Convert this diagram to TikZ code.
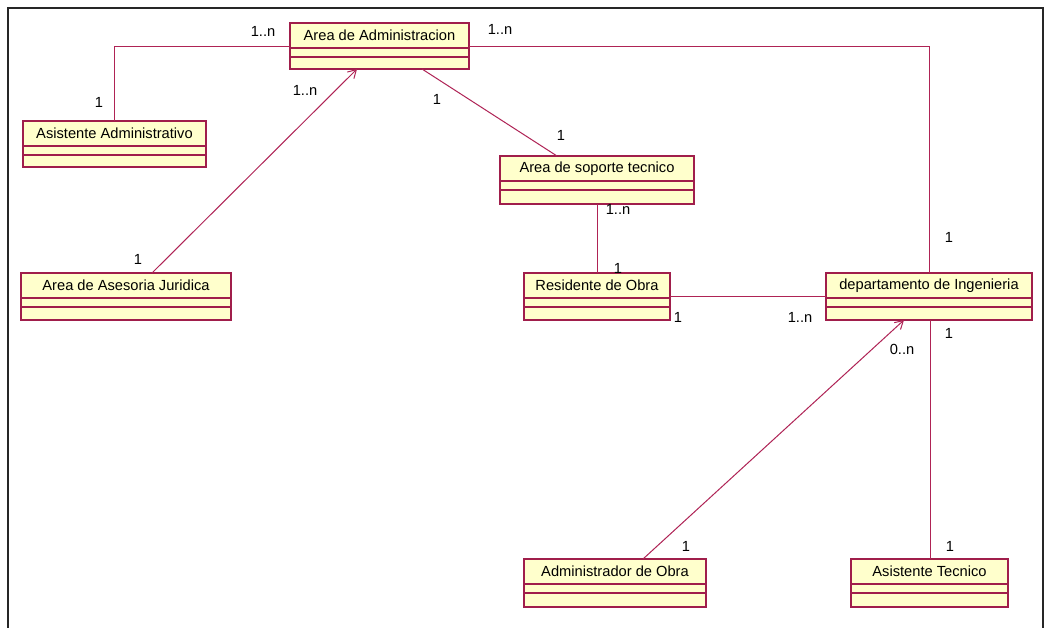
\documentclass[tikz,border=0pt]{standalone}
\usepackage{fontspec}
\setmainfont{Liberation Sans}
\usetikzlibrary{calc}
\usetikzlibrary{fit}
\usetikzlibrary{arrows.meta}
\usepackage{xcolor}

\definecolor{umlfill}{RGB}{255,255,204}
\definecolor{umlborder}{RGB}{160,30,75}
\definecolor{umlline}{RGB}{175,35,85}

% class box: name, left, top, right, bottom, text
\newcommand{\umlclass}[6]{%
\draw[classbox] (#2,#3) rectangle (#4,#5);
\draw[classbox] (#2,#3+25) -- (#4,#3+25) (#2,#3+34) -- (#4,#3+34);
\node[fit={(#2,#3) (#4,#5)}, inner sep=0pt, outer sep=0pt] (#1) {};
\node[classname] (#1-t) at ($(#1.north)+(0,12.5)$) {#6};
}

\begin{document}
\begin{tikzpicture}[x=0.75pt, y=-0.75pt,
  classbox/.style={draw=umlborder, fill=umlfill, line width=0.8pt},
  classname/.style={font=\fontsize{11}{13}\selectfont, inner sep=0pt},
  mult/.style={font=\fontsize{11}{13}\selectfont, inner sep=0pt},
  assoc/.style={draw=umlline, line width=0.75pt},
  nav/.style={assoc, -{Straight Barb[length=6pt, width=7pt]}}]
\useasboundingbox (0,0) rectangle (1046,628);
\fill[white] (0,0) rectangle (1046,628);

\draw[line width=1.6pt, black!85] (8,628) -- (8,8) -- (1043,8) -- (1043,628);

\umlclass{admin}{290}{23}{469}{69}{Area de Administracion}
\umlclass{asisadm}{23}{121}{206}{167}{Asistente Administrativo}
\umlclass{soporte}{500}{156}{694}{204}{Area de soporte tecnico}
\umlclass{asesoria}{21}{273}{231}{320}{Area de Asesoria Juridica}
\umlclass{resid}{524}{273}{670}{320}{Residente de Obra}
\umlclass{depto}{826}{273}{1032}{320}{departamento de Ingenieria}
\umlclass{adminobra}{524}{559}{706}{607}{Administrador de Obra}
\umlclass{asistec}{851}{559}{1008}{607}{Asistente Tecnico}

\draw[assoc] (admin.west) -| (asisadm.north);
\draw[assoc] (admin.east) -| (depto.north);
\draw[assoc] ($(admin.south)+(42.5,0)$) -- ($(soporte.north)+(-40,0)$);
\draw[nav] ($(asesoria.north)+(26,0)$) -- ($(admin.south)+(-22.5,0)$);
\draw[assoc] (soporte.south) -- (resid.north);
\draw[assoc] (resid.east) -- (depto.west);
\draw[nav] ($(adminobra.north)+(28,0)$) -- ($(depto.south)+(-25,0)$);
\draw[assoc] ($(depto.south)+(1,0)$) -- ($(asistec.north)+(0.5,0)$);

\node[mult] (m1) at (263,31) {1..n};
\node[mult] (m2) at (99,102) {1};
\node[mult] (m3) at (305,90) {1..n};
\node[mult] (m4) at (437,99) {1};
\node[mult] (m5) at (500,29) {1..n};
\node[mult] (m6) at (561,135) {1};
\node[mult] (m7) at (138,259) {1};
\node[mult] (m8) at (618,209) {1..n};
\node[mult] (m9) at (618,268) {1};
\node[mult] (m10) at (678,317) {1};
\node[mult] (m11) at (800,317) {1..n};
\node[mult] (m12) at (949,237) {1};
\node[mult] (m13) at (949,333) {1};
\node[mult] (m14) at (902,349) {0..n};
\node[mult] (m15) at (686,546) {1};
\node[mult] (m16) at (950,546) {1};

\end{tikzpicture}
\end{document}
